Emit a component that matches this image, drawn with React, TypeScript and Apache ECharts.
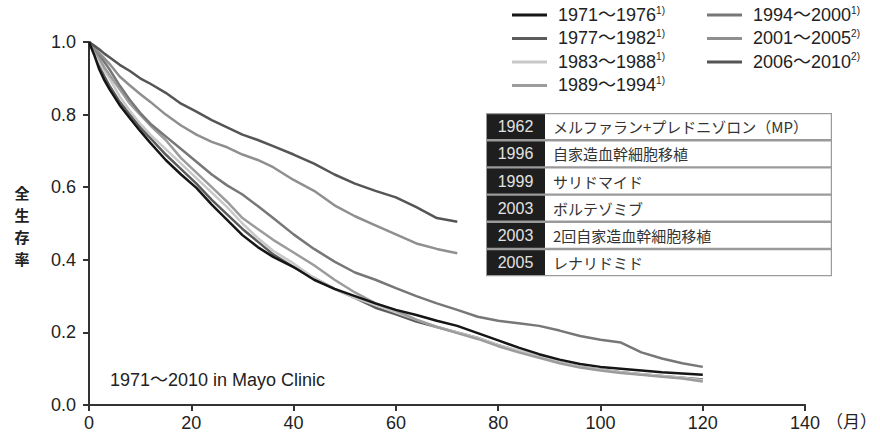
import React, { useEffect, useRef } from "react";
import * as echarts from "echarts";

const months = [0, 1, 2, 3, 4, 6, 8, 10, 12, 15, 18, 21, 24, 27, 30, 33, 36, 40, 44, 48, 52, 56, 60, 64, 68, 72, 76, 80, 84, 88, 92, 96, 100, 104, 108, 112, 116, 120];

const s1971 = [1, 0.965, 0.925, 0.895, 0.87, 0.826, 0.79, 0.755, 0.722, 0.675, 0.635, 0.598, 0.552, 0.51, 0.468, 0.435, 0.408, 0.38, 0.345, 0.32, 0.3, 0.28, 0.262, 0.248, 0.232, 0.218, 0.198, 0.178, 0.158, 0.14, 0.125, 0.113, 0.105, 0.1, 0.095, 0.09, 0.087, 0.083];
const s1977 = [1, 0.97, 0.935, 0.905, 0.88, 0.835, 0.8, 0.765, 0.735, 0.69, 0.65, 0.61, 0.565, 0.525, 0.485, 0.45, 0.415, 0.38, 0.35, 0.32, 0.295, 0.268, 0.25, 0.23, 0.215, 0.2, 0.185, 0.165, 0.148, 0.133, 0.118, 0.105, 0.097, 0.09, 0.085, 0.08, 0.075, 0.07];
const s1983 = [1, 0.975, 0.945, 0.92, 0.9, 0.85, 0.81, 0.775, 0.745, 0.705, 0.665, 0.625, 0.585, 0.545, 0.5, 0.46, 0.425, 0.39, 0.35, 0.32, 0.295, 0.275, 0.255, 0.235, 0.215, 0.2, 0.185, 0.165, 0.15, 0.135, 0.118, 0.105, 0.097, 0.09, 0.085, 0.08, 0.075, 0.068];
const s1989 = [1, 0.98, 0.955, 0.93, 0.91, 0.87, 0.83, 0.8, 0.77, 0.73, 0.68, 0.64, 0.6, 0.56, 0.515, 0.485, 0.455, 0.42, 0.385, 0.345, 0.31, 0.28, 0.26, 0.235, 0.215, 0.198, 0.182, 0.162, 0.145, 0.13, 0.115, 0.103, 0.095, 0.088, 0.083, 0.078, 0.073, 0.065];
const s1994 = [1, 0.985, 0.965, 0.945, 0.925, 0.88, 0.84, 0.805, 0.775, 0.74, 0.705, 0.67, 0.635, 0.605, 0.58, 0.548, 0.515, 0.47, 0.43, 0.395, 0.365, 0.345, 0.322, 0.3, 0.28, 0.262, 0.243, 0.232, 0.225, 0.218, 0.205, 0.19, 0.18, 0.172, 0.145, 0.128, 0.115, 0.105];
const s2001 = [1, 0.985, 0.97, 0.955, 0.94, 0.905, 0.88, 0.857, 0.835, 0.8, 0.77, 0.745, 0.725, 0.71, 0.69, 0.675, 0.655, 0.62, 0.59, 0.55, 0.52, 0.495, 0.47, 0.445, 0.43, 0.418];
const s2006 = [1, 0.99, 0.98, 0.968, 0.958, 0.937, 0.92, 0.9, 0.885, 0.86, 0.83, 0.808, 0.785, 0.765, 0.745, 0.73, 0.713, 0.69, 0.665, 0.635, 0.61, 0.59, 0.572, 0.545, 0.515, 0.505];

const seriesNames = ["1971～1976", "1977～1982", "1983～1988", "1989～1994", "1994～2000", "2001～2005", "2006～2010"];
const seriesNotes = ["1)", "1)", "1)", "1)", "1)", "2)", "2)"];
const seriesValues = [s1971, s1977, s1983, s1989, s1994, s2001, s2006];
const seriesColors = ["#151515", "#5c5c5c", "#c8c8c8", "#9c9c9c", "#777777", "#8f8f8f", "#555555"];

const xTicks = [0, 20, 40, 60, 80, 100, 120, 140];
const yTicks = [0, 0.2, 0.4, 0.6, 0.8, 1.0];

const tableYears = ["1962", "1996", "1999", "2003", "2003", "2005"];
const tableDrugs = ["メルファラン+プレドニゾロン（MP）", "自家造血幹細胞移植", "サリドマイド", "ボルテゾミブ", "2回自家造血幹細胞移植", "レナリドミド"];
const yAxisTitle = ["全", "生", "存", "率"];

const LATIN = '"Liberation Sans", Arial, "Noto Sans CJK JP", sans-serif';
const CJK = '"Noto Sans CJK JP", "Liberation Sans", sans-serif';

export default function App() {
  const ref = useRef<HTMLDivElement>(null);
  useEffect(() => {
    if (!ref.current) return;
    const chart = echarts.init(ref.current, undefined, { renderer: "svg" });

    const series = seriesNames.map((name, i) => ({
      name,
      type: "line",
      data: seriesValues[i].map((v, j) => [months[j], v]),
      showSymbol: false,
      symbol: "none",
      color: seriesColors[i],
      lineStyle: { width: 2.5, color: seriesColors[i] },
      z: i === 0 ? 5 : 2,
    }));

    const noteOf = (name: string) => seriesNotes[seriesNames.indexOf(name)];
    const legendBase = {
      orient: "vertical",
      top: 0,
      icon: "rect",
      itemWidth: 35,
      itemHeight: 3,
      itemGap: 4.5,
      selectedMode: false,
      formatter: (name: string) => `{n|${name}}{s|${noteOf(name)}}`,
      textStyle: {
        padding: [0, 0, 0, 6],
        rich: {
          n: { fontSize: 18, fontFamily: LATIN, color: "#222", lineHeight: 20 },
          s: { fontSize: 10, fontFamily: LATIN, color: "#222", verticalAlign: "top", lineHeight: 12 },
        },
      },
    };

    const x0 = 486, x1 = 545, x2 = 832, yTop = 113, rowH = 27.2;
    const tableGraphics: any[] = [
      { type: "rect", shape: { x: x0, y: yTop, width: x2 - x0, height: rowH * tableYears.length }, style: { fill: "#9a9a9a" }, z: 10 },
    ];
    tableYears.forEach((yr, i) => {
      const y = yTop + i * rowH;
      tableGraphics.push({ type: "rect", shape: { x: x0 + 1, y: y + 1.2, width: x1 - x0 - 1, height: rowH - 2.4 }, style: { fill: "#1e1e1e" }, z: 11 });
      tableGraphics.push({ type: "rect", shape: { x: x1, y: y + 1.2, width: x2 - x1 - 1.2, height: rowH - 2.4 }, style: { fill: "#ffffff" }, z: 11 });
      tableGraphics.push({ type: "text", x: (x0 + x1) / 2, y: y + rowH / 2, style: { text: yr, fill: "#e2e2e2", font: `16px ${LATIN}`, align: "center", verticalAlign: "middle" }, z: 12 });
      tableGraphics.push({ type: "text", x: 553, y: y + rowH / 2, style: { text: tableDrugs[i], fill: "#333", font: `15px ${CJK}`, align: "left", verticalAlign: "middle" }, z: 12 });
    });

    const titleGraphics = yAxisTitle.map((ch, i) => ({
      type: "text",
      x: 22,
      y: 192 + i * 22,
      style: { text: ch, font: `bold 15px ${CJK}`, fill: "#222", align: "center", verticalAlign: "middle" },
    }));

    chart.setOption({
      animation: false,
      backgroundColor: "#ffffff",
      grid: { left: 89, right: 67, top: 42, bottom: 32 },
      legend: [
        { ...legendBase, left: 507, data: seriesNames.slice(0, 4) },
        { ...legendBase, left: 702, data: seriesNames.slice(4) },
      ],
      xAxis: {
        type: "value",
        min: 0,
        max: 140,
        interval: 20,
        axisLine: { show: true, lineStyle: { color: "#333", width: 2 } },
        axisTick: { show: true, length: 6, lineStyle: { color: "#333", width: 2 } },
        splitLine: { show: false },
        axisLabel: {
          margin: 9,
          fontSize: 18,
          fontFamily: LATIN,
          color: "#222",
          formatter: (v: number) => (xTicks.includes(v) ? String(v) : ""),
        },
        name: "（月）",
        nameLocation: "end",
        nameGap: 17,
        nameTextStyle: { fontSize: 17, fontFamily: CJK, color: "#222", align: "left", verticalAlign: "top", padding: [7, 0, 0, 0] },
      },
      yAxis: {
        type: "value",
        min: 0,
        max: 1,
        interval: 0.2,
        axisLine: { show: true, lineStyle: { color: "#333", width: 2 } },
        axisTick: { show: true, length: 6, lineStyle: { color: "#333", width: 2 } },
        splitLine: { show: false },
        axisLabel: {
          margin: 13,
          fontSize: 18,
          fontFamily: LATIN,
          color: "#222",
          formatter: (v: number) => (yTicks.some((t) => Math.abs(t - v) < 1e-9) ? v.toFixed(1) : ""),
        },
      },
      graphic: [
        ...titleGraphics,
        { type: "text", x: 110, y: 380, style: { text: "1971～2010 in Mayo Clinic", font: `18px ${LATIN}`, fill: "#222", align: "left", verticalAlign: "middle" } },
        ...tableGraphics,
      ],
      series,
    });

    return () => chart.dispose();
  }, []);

  return <div ref={ref} style={{ position: "fixed", left: 0, top: 0, width: 880, height: 437, background: "#fff" }} />;
}
